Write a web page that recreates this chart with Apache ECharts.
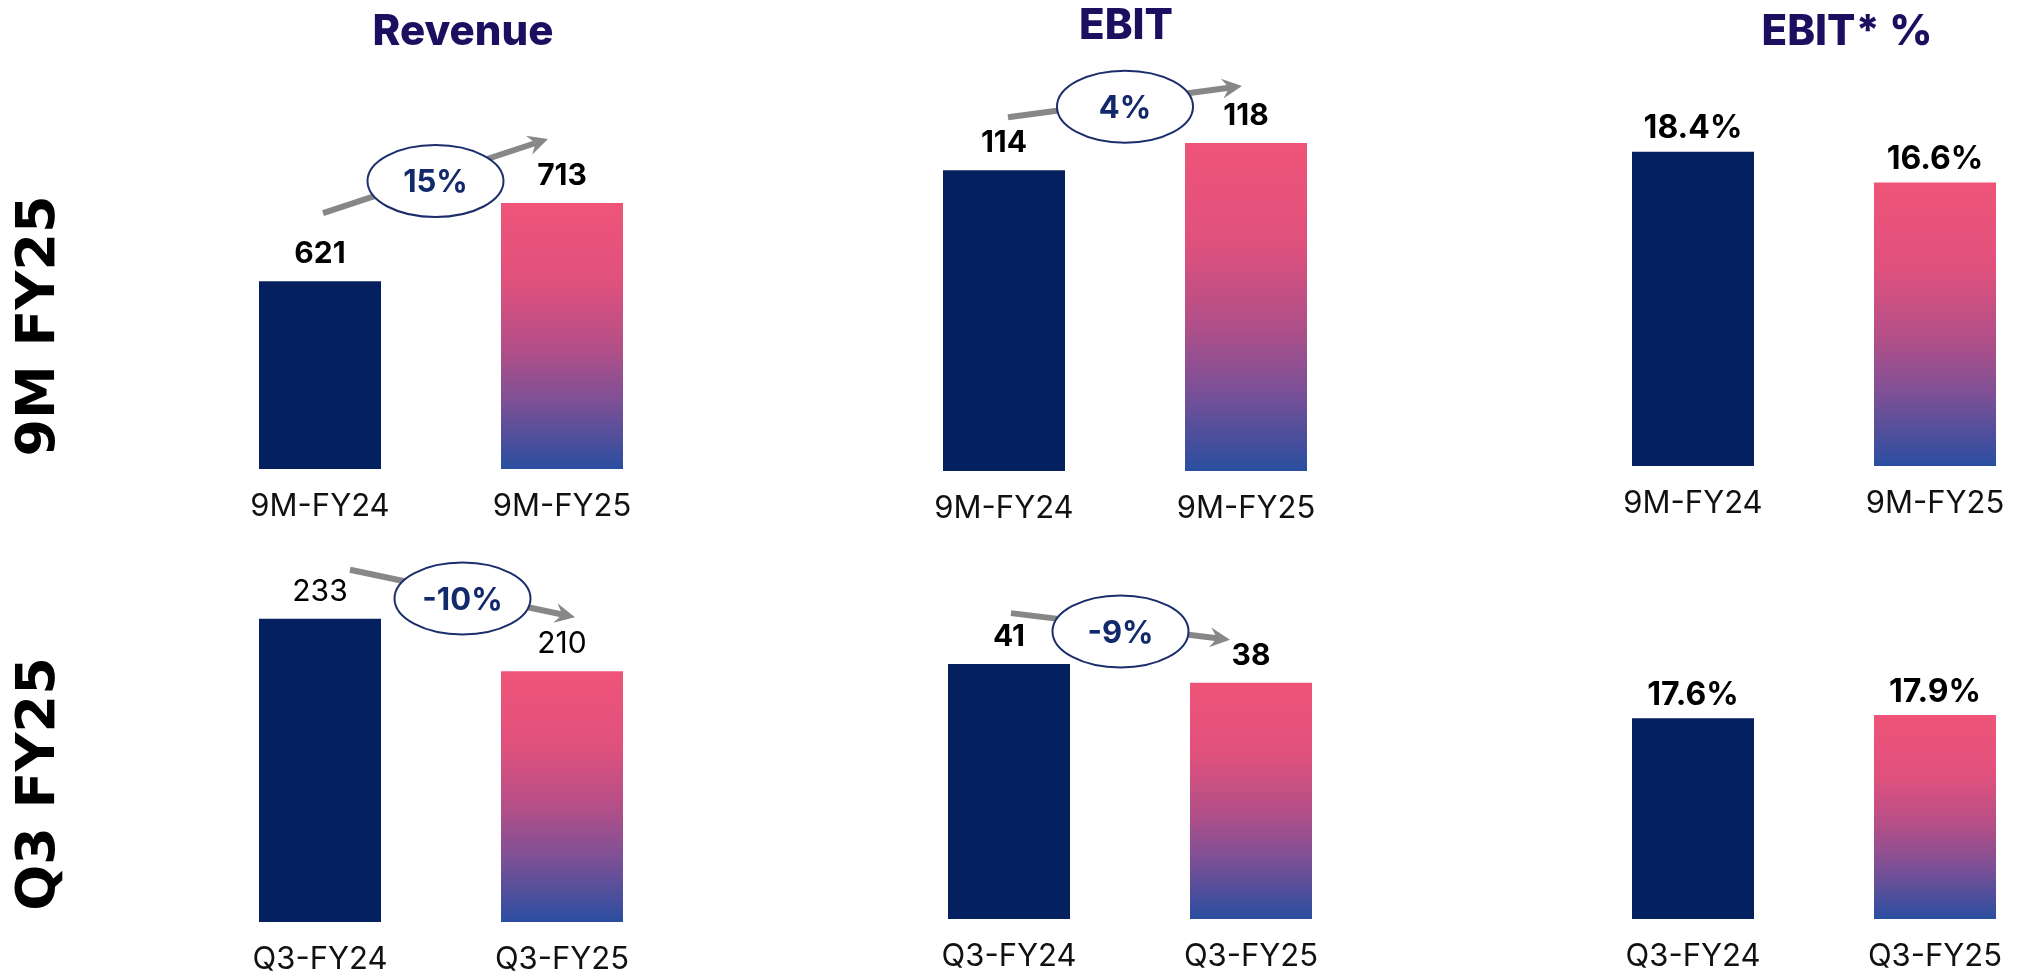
<!DOCTYPE html>
<html>
<head>
<meta charset="utf-8">
<script src="https://cdn.jsdelivr.net/npm/echarts@6/dist/echarts.min.js"></script>
<style>
  html, body { margin: 0; padding: 0; background: #ffffff; }
  #chart { width: 2023px; height: 976px; }
</style>
</head>
<body>
<div id="chart"></div>
<script>
// Periods shown on the category axes
const periods9M = ['9M-FY24', '9M-FY25'];
const periodsQ3 = ['Q3-FY24', 'Q3-FY25'];

// Nine-month figures
const revenue9M = [621, 713];
const ebit9M = [114, 118];
const ebitMargin9M = [18.4, 16.6];

// Third-quarter figures
const revenueQ3 = [233, 210];
const ebitQ3 = [41, 38];
const ebitMarginQ3 = [17.6, 17.9];

// Year-on-year change badges: [9M, Q3]
const revenueGrowth = ['15%', '-10%'];
const ebitGrowth = ['4%', '-9%'];

const columnTitles = ['Revenue', 'EBIT', 'EBIT* %'];
const rowTitles = ['9M FY25', 'Q3 FY25'];

const NAVY = '#04205E';
const TITLE_COLOR = '#1B1060';
const BADGE_COLOR = '#12296B';
const ARROW_COLOR = '#878787';
const FONT = 'Inter, "Noto Sans", sans-serif';

const pinkToBlue = {
  type: 'linear', x: 0, y: 0, x2: 0, y2: 1,
  colorStops: [
    { offset: 0, color: '#EF5478' },
    { offset: 0.3, color: '#E0517D' },
    { offset: 0.55, color: '#B24F88' },
    { offset: 0.75, color: '#7C5096' },
    { offset: 1, color: '#2A4EA0' }
  ]
};

// One small bar chart per panel (row-major: 9M row, then Q3 row).
// Categories sit on the grid edges (boundaryGap off), so the grid spans
// from the first bar centre to the second.
const panels = [
  { cats: periods9M, values: revenue9M,    grid: { left: 320,  top: 129, width: 242, height: 340 }, min: 400, max: 800, bold: true,  pct: false },
  { cats: periods9M, values: ebit9M,       grid: { left: 1004, top: 61,  width: 242, height: 410 }, min: 70,  max: 130, bold: true,  pct: false },
  { cats: periods9M, values: ebitMargin9M, grid: { left: 1693, top: 39,  width: 242, height: 427 }, min: 0,   max: 25,  bold: true,  pct: true },
  { cats: periodsQ3, values: revenueQ3,    grid: { left: 320,  top: 466, width: 242, height: 456 }, min: 100, max: 300, bold: false, pct: false },
  { cats: periodsQ3, values: ebitQ3,       grid: { left: 1009, top: 546, width: 242, height: 373 }, min: 0,   max: 60,  bold: true,  pct: false },
  { cats: periodsQ3, values: ebitMarginQ3, grid: { left: 1693, top: 634, width: 242, height: 285 }, min: 0,   max: 25,  bold: true,  pct: true }
];

const chart = echarts.init(document.getElementById('chart'), null, { renderer: 'canvas' });

const option = {
  animation: false,
  backgroundColor: '#ffffff',
  title: [
    { text: columnTitles[0], left: 458,  top: 6, textAlign: 'center' },
    { text: columnTitles[1], left: 1121, top: 0, textAlign: 'center' },
    { text: columnTitles[2], left: 1842, top: 6, textAlign: 'center' }
  ].map(t => Object.assign(t, {
    textStyle: { fontSize: 42, fontWeight: 800, color: TITLE_COLOR, fontFamily: FONT }
  })),
  grid: panels.map(p => Object.assign({ containLabel: false }, p.grid)),
  xAxis: panels.map((p, i) => ({
    type: 'category',
    gridIndex: i,
    data: p.cats,
    boundaryGap: false,
    axisLine: { show: false },
    axisTick: { show: false },
    axisLabel: { fontSize: 31, color: '#111111', fontFamily: FONT, margin: 22, interval: 0 }
  })),
  yAxis: panels.map((p, i) => ({
    type: 'value',
    gridIndex: i,
    min: p.min,
    max: p.max,
    show: false,
    splitLine: { show: false }
  })),
  series: panels.map((p, i) => ({
    type: 'bar',
    xAxisIndex: i,
    yAxisIndex: i,
    barWidth: 122,
    silent: true,
    data: p.values.map((v, j) => ({
      value: v,
      itemStyle: { color: j === 0 ? NAVY : pinkToBlue }
    })),
    label: {
      show: true,
      position: 'top',
      distance: p.pct ? 7 : 12,
      formatter: p.pct ? '{c}%' : '{c}',
      fontSize: p.pct ? 32 : 30,
      fontWeight: p.bold ? 'bold' : 'normal',
      color: '#000000',
      fontFamily: FONT
    }
  }))
};

chart.setOption(option);

// Growth badges: an arrow running from above the first bar to above the second,
// with an outlined ellipse carrying the change figure at its middle.
const badges = [
  { panel: 0, text: revenueGrowth[0], from: [3, -68],  to: [-14, -64] },
  { panel: 1, text: ebitGrowth[0],    from: [4, -53],  to: [-4, -57] },
  { panel: 3, text: revenueGrowth[1], from: [30, -49], to: [13, -54] },
  { panel: 4, text: ebitGrowth[1],    from: [2, -51],  to: [-21, -43] }
];

const graphics = [];
badges.forEach(b => {
  const p = panels[b.panel];
  const top0 = chart.convertToPixel({ gridIndex: b.panel }, [p.cats[0], p.values[0]]);
  const top1 = chart.convertToPixel({ gridIndex: b.panel }, [p.cats[1], p.values[1]]);
  const s = [top0[0] + b.from[0], top0[1] + b.from[1]];
  const e = [top1[0] + b.to[0], top1[1] + b.to[1]];
  const dx = e[0] - s[0], dy = e[1] - s[1];
  const len = Math.hypot(dx, dy);
  const u = [dx / len, dy / len];
  const n = [-u[1], u[0]];
  const headLen = 20, headHalf = 10, notch = 13;
  const shaftEnd = [e[0] - u[0] * notch, e[1] - u[1] * notch];
  graphics.push({
    type: 'line', z: 20,
    shape: { x1: s[0], y1: s[1], x2: shaftEnd[0], y2: shaftEnd[1] },
    style: { stroke: ARROW_COLOR, lineWidth: 6 }
  });
  graphics.push({
    type: 'polygon', z: 20,
    shape: { points: [
      e,
      [e[0] - u[0] * headLen + n[0] * headHalf, e[1] - u[1] * headLen + n[1] * headHalf],
      shaftEnd,
      [e[0] - u[0] * headLen - n[0] * headHalf, e[1] - u[1] * headLen - n[1] * headHalf]
    ] },
    style: { fill: ARROW_COLOR }
  });
  const cx = (s[0] + e[0]) / 2, cy = (s[1] + e[1]) / 2 + 5;
  graphics.push({
    type: 'ellipse', z: 21,
    shape: { cx: cx, cy: cy, rx: 68, ry: 36 },
    style: { fill: '#ffffff', stroke: '#1C2D6B', lineWidth: 2 }
  });
  graphics.push({
    type: 'text', z: 22, x: cx, y: cy + 2,
    style: {
      text: b.text, fill: BADGE_COLOR,
      font: 'bold 31px ' + FONT,
      textAlign: 'center', textVerticalAlign: 'middle',
      align: 'center', verticalAlign: 'middle'
    }
  });
});

// Row headings, reading bottom to top
[[rowTitles[0], 326], [rowTitles[1], 784]].forEach(([text, y]) => {
  graphics.push({
    type: 'text', z: 5, x: 40, y: y, rotation: Math.PI / 2,
    style: {
      text: text, fill: '#000000',
      font: 'bold 54px "DejaVu Sans", sans-serif',
      textAlign: 'center', textVerticalAlign: 'middle',
      align: 'center', verticalAlign: 'middle'
    }
  });
});

chart.setOption({ graphic: { elements: graphics } });
</script>
</body>
</html>
